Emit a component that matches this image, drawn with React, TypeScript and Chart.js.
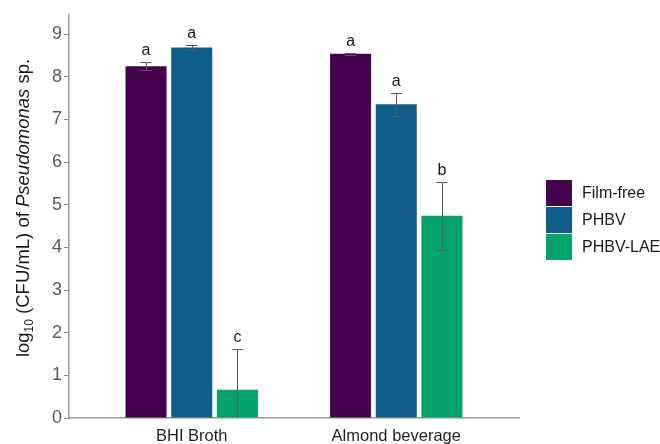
import React, { useEffect, useRef } from "react";
import { Chart, registerables } from "chart.js";

Chart.register(...registerables);

const categories = ["BHI Broth", "Almond beverage"];
const categoryPositions = [1, 2];
const seriesNames = ["Film-free", "PHBV", "PHBV-LAE"];
const seriesColors = ["#45034f", "#0f5d8b", "#05a36c"];
const filmFree = [8.25, 8.54];
const phbv = [8.69, 7.36];
const phbvLae = [0.66, 4.74];
const filmFreeErr = [0.09, 0.02];
const phbvErr = [0.05, 0.27];
const phbvLaeErr = [0.96, 0.79];
const filmFreeLetters = ["a", "a"];
const phbvLetters = ["a", "a"];
const phbvLaeLetters = ["c", "b"];
const yTicks = [0, 1, 2, 3, 4, 5, 6, 7, 8, 9];

const FONT = "'Liberation Sans', Arial, Helvetica, sans-serif";

const seriesValues = [filmFree, phbv, phbvLae];
const seriesErrors = [filmFreeErr, phbvErr, phbvLaeErr];
const seriesLetters = [filmFreeLetters, phbvLetters, phbvLaeLetters];

const overlayPlugin = {
  id: "overlay",
  afterDatasetsDraw(chart: any) {
    const ctx = chart.ctx;
    const yScale = chart.scales.y;
    ctx.save();
    // error bars and letters
    seriesValues.forEach((vals, di) => {
      const meta = chart.getDatasetMeta(di);
      meta.data.forEach((el: any, i: number) => {
        const v = vals[i];
        const e = seriesErrors[di][i];
        const x = el.x;
        const yTop = yScale.getPixelForValue(v + e);
        const lowV = Math.max(0, v - e);
        const yLow = yScale.getPixelForValue(lowV);
        ctx.strokeStyle = "#5a5a5a";
        ctx.lineWidth = 1;
        ctx.beginPath();
        ctx.moveTo(Math.round(x) + 0.5, yTop);
        ctx.lineTo(Math.round(x) + 0.5, yLow);
        ctx.moveTo(x - 5.5, Math.round(yTop) + 0.5);
        ctx.lineTo(x + 5.5, Math.round(yTop) + 0.5);
        if (v - e > 0) {
          ctx.moveTo(x - 5.5, Math.round(yLow) + 0.5);
          ctx.lineTo(x + 5.5, Math.round(yLow) + 0.5);
        }
        ctx.stroke();
        ctx.fillStyle = "#1a1a1a";
        ctx.font = `16px ${FONT}`;
        ctx.textAlign = "center";
        ctx.textBaseline = "alphabetic";
        ctx.fillText(seriesLetters[di][i], x, yTop - 7);
      });
    });

    // y axis title
    ctx.save();
    ctx.translate(29, 208);
    ctx.rotate(-Math.PI / 2);
    const segs = [
      { t: "log", f: `18.5px ${FONT}`, dy: 0 },
      { t: "10", f: `12px ${FONT}`, dy: 4 },
      { t: " (CFU/mL) of ", f: `18.5px ${FONT}`, dy: 0 },
      { t: "Pseudomonas", f: `italic 18.5px ${FONT}`, dy: 0 },
      { t: " sp.", f: `18.5px ${FONT}`, dy: 0 },
    ];
    let total = 0;
    segs.forEach((s) => {
      ctx.font = s.f;
      total += ctx.measureText(s.t).width;
    });
    let cx = -total / 2;
    ctx.fillStyle = "#1a1a1a";
    ctx.textAlign = "left";
    ctx.textBaseline = "alphabetic";
    segs.forEach((s) => {
      ctx.font = s.f;
      ctx.fillText(s.t, cx, s.dy);
      cx += ctx.measureText(s.t).width;
    });
    ctx.restore();

    // legend
    const lx = 546;
    const ly = 180;
    const sz = 26;
    seriesNames.forEach((name, i) => {
      const y = ly + i * 27;
      ctx.fillStyle = seriesColors[i];
      ctx.fillRect(lx, y, sz, sz);
      ctx.fillStyle = "#1a1a1a";
      ctx.font = `16px ${FONT}`;
      ctx.textAlign = "left";
      ctx.textBaseline = "middle";
      ctx.fillText(name, 582, y + sz / 2 + 1);
    });
    ctx.restore();
  },
};

export default function App() {
  const ref = useRef<HTMLCanvasElement>(null);
  useEffect(() => {
    if (!ref.current) return;
    const chart = new Chart(ref.current, {
      type: "bar",
      data: {
        datasets: seriesNames.map((name, di) => ({
          label: name,
          data: categoryPositions.map((x, i) => ({ x, y: seriesValues[di][i] })),
          backgroundColor: seriesColors[di],
          borderWidth: 0,
          categoryPercentage: 0.67,
          barPercentage: 0.898,
        })),
      },
      options: {
        responsive: false,
        animation: false,
        layout: { padding: { top: 15, right: 141, left: 0, bottom: 0 } },
        plugins: {
          legend: { display: false },
          tooltip: { enabled: false },
          title: { display: false },
        },
        scales: {
          x: {
            type: "linear",
            min: 0.4,
            max: 2.6,
            offset: false,
            afterBuildTicks: (s: any) => {
              s.ticks = categoryPositions.map((v) => ({ value: v }));
            },
            afterFit: (s: any) => {
              s.height = 26;
            },
            grid: { display: false, drawTicks: false, offset: false },
            border: { display: true, color: "#9a9a9a", width: 1.5 },
            ticks: {
              autoSkip: false,
              maxRotation: 0,
              padding: 9,
              color: "#1f1f1f",
              font: { family: FONT, size: 16.5 },
              callback: (v: any) => {
                const idx = categoryPositions.indexOf(Number(v));
                return idx >= 0 ? categories[idx] : "";
              },
            },
          },
          y: {
            min: 0,
            max: 9.45,
            afterBuildTicks: (s: any) => {
              s.ticks = yTicks.map((v) => ({ value: v }));
            },
            afterFit: (s: any) => {
              s.width = 69;
            },
            grid: {
              display: true,
              drawOnChartArea: false,
              drawTicks: true,
              tickLength: 5,
              tickColor: "#8a8a8a",
              tickWidth: 1,
            },
            border: { display: true, color: "#9a9a9a", width: 1.5 },
            ticks: {
              padding: 2,
              color: "#595959",
              font: { family: FONT, size: 18 },
            },
          },
        },
      },
      plugins: [overlayPlugin],
    } as any);
    return () => chart.destroy();
  }, []);
  return (
    <div style={{ position: "fixed", left: 0, top: 0, width: 660, height: 444, background: "#fff" }}>
      <canvas ref={ref} width={660} height={444} style={{ display: "block" }} />
    </div>
  );
}
